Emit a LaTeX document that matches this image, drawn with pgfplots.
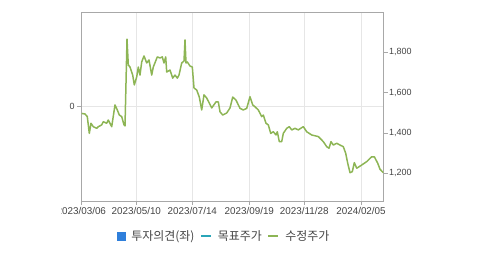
\documentclass[border=0pt]{standalone}
\usepackage{pgfplots}
\pgfplotsset{compat=1.18}
\usepackage{fontspec}
\setmainfont{Liberation Sans}
\newfontfamily\kr{Noto Sans CJK KR}
\definecolor{axgray}{HTML}{A8A8A8}
\definecolor{gridgray}{HTML}{E6E6E6}
\definecolor{txt}{HTML}{444444}
\definecolor{pricegreen}{HTML}{8DB555}
\definecolor{opblue}{HTML}{2F7FDB}
\definecolor{tgteal}{HTML}{2AA5B8}
\pgfplotstableread{
x y
0.4 1497
3.7 1494
6 1481
8 1398
9.7 1448
12 1431
15.4 1423
17 1431
20.4 1440
22 1456
25.4 1448
27 1464
30.4 1431
33.7 1539
36 1514
38 1489
40.4 1481
42.7 1440
43.7 1435
44.7 1648
45.7 1865
47 1737
48.7 1727
51.4 1687
53 1638
55.4 1678
57 1727
58.7 1687
60.4 1752
62.7 1782
65.4 1747
67.7 1762
70.4 1687
72 1727
76 1777
78.7 1772
81 1777
82.7 1747
84.4 1777
85.4 1702
88.7 1712
91.4 1672
93.7 1687
96 1672
97.7 1687
100.4 1747
102.7 1757
103.7 1861
104.7 1747
106 1752
108.7 1732
111 1727
112.7 1623
115.4 1613
118 1578
120.4 1514
122.7 1589
125.4 1573
128 1548
130.4 1524
134.7 1554
137 1554
138.7 1505
141.4 1489
145.4 1499
148.7 1524
151.4 1578
154.7 1563
158.7 1522
162 1514
165.4 1522
168.7 1580
171.4 1539
173.7 1530
177 1514
180.4 1481
182 1489
184.7 1448
187 1440
189.4 1398
192 1406
194.7 1390
196 1406
198 1357
200.4 1357
202 1398
205.4 1423
208 1431
210.4 1415
213.7 1423
217 1415
219.4 1423
222 1431
225.4 1406
230.4 1390
237 1382
242 1357
245.4 1332
247.7 1324
249.7 1357
252 1340
255.4 1349
258.7 1340
262 1332
264.4 1299
266.4 1250
268.7 1203
271 1208
273 1253
275.4 1225
280.4 1241
285.4 1258
290.4 1282
293 1282
296.4 1250
298.7 1220
302 1203
}\pricedata
\begin{document}
\begin{tikzpicture}[x=1bp,y=1bp]
\path[use as bounding box] (0,0) rectangle (479,254);
\begin{scope}
\clip (61,0) rectangle (479,254);
\begin{axis}[
  at={(81.3bp,53bp)}, anchor=south west,
  scale only axis, width=302.2bp, height=188.7bp,
  xmin=0, xmax=302.2, ymin=-1, ymax=1,
  axis line style={axgray, line width=0.8bp},
  xtick={0,55,111,168,223,279.7},
  xticklabels={2023/03/06,2023/05/10,2023/07/14,2023/09/19,2023/11/28,2024/02/05},
  ytick={0},
  xtick pos=bottom, ytick pos=left,
  tick align=outside,
  major tick length=4bp,
  tick style={axgray, line width=0.8bp},
  xmajorgrids, ymajorgrids,
  major grid style={gridgray, line width=0.8bp},
  /pgf/number format/assume math mode=true,
  xticklabel style={font=\fontsize{9.9}{11}\selectfont, text=txt, inner sep=1bp, yshift=-1.5bp},
  yticklabel style={font=\fontsize{9}{10}\selectfont, text=txt, inner sep=1bp, xshift=-1.5bp},
  legend columns=3,
  legend style={at={(axis description cs:0.117,-0.188)}, anchor=west, draw=none, fill=none,
    inner sep=0pt, font=\kr\fontsize{12}{13}\selectfont, text=txt,
    nodes={inner xsep=2.5bp, inner ysep=0pt},
    /tikz/every odd column/.append style={column sep=3.5bp},
    /tikz/every even column/.append style={column sep=3bp}},
]
\addlegendimage{legend image code/.code={\fill[opblue] (0bp,-4bp) rectangle (8bp,4bp);}}
\addlegendentry{투자의견(좌)}
\addlegendimage{legend image code/.code={\draw[tgteal, line width=2bp] (0bp,0bp) -- (10bp,0bp);}}
\addlegendentry{목표주가\hspace{20bp}}
\addlegendimage{legend image code/.code={\draw[pricegreen, line width=2bp] (0bp,0bp) -- (10bp,0bp);}}
\addlegendentry{수정주가}
\end{axis}
\begin{axis}[
  at={(81.3bp,53bp)}, anchor=south west,
  scale only axis, width=302.2bp, height=188.7bp,
  xmin=0, xmax=302.2, ymin=1062.6, ymax=1998.3,
  axis x line=none, axis y line*=right,
  axis line style={axgray, line width=0.8bp},
  ytick={1200,1400,1600,1800},
  tick align=outside,
  major tick length=4bp,
  tick style={axgray, line width=0.8bp},
  /pgf/number format/assume math mode=true,
  /pgf/number format/1000 sep={,},
  yticklabel style={font=\fontsize{9}{10}\selectfont, text=txt, inner sep=1bp, xshift=0.5bp},
]
\addplot[pricegreen, line width=1.5bp, line join=round] table[x=x,y=y] {\pricedata};
\end{axis}
\end{scope}
\end{tikzpicture}
\end{document}
